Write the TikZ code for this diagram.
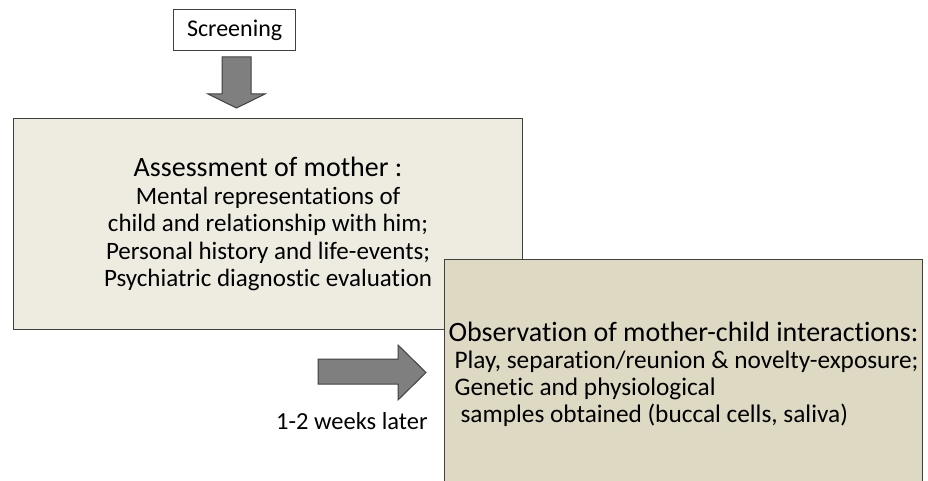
\documentclass[tikz,border=0pt]{standalone}
\usepackage{fontspec}
\setmainfont{Carlito}[Ligatures=NoCommon]
\definecolor{boxline}{HTML}{404040}
\definecolor{assessfill}{HTML}{EEECE1}
\definecolor{observfill}{HTML}{DDD9C3}
\definecolor{arrowfill}{HTML}{7F7F7F}
\begin{document}
\begin{tikzpicture}[x=1pt,y=-1pt,
    box/.style={draw=boxline,line width=1.2pt,inner sep=0pt},
    blockarrow/.style={draw=boxline,fill=arrowfill,line width=1pt,line join=miter},
    smalltext/.style={font=\fontsize{25}{27.5}\selectfont}]
  \useasboundingbox (0,0) rectangle (928,481);
  % boxes
  \node[box,font=\fontsize{24}{28}\selectfont,fill=white,anchor=north west,minimum width=122,minimum height=41] (screen) at (173,9) {Screening};
  \node[box,smalltext,fill=assessfill,anchor=north west,minimum width=509,minimum height=211,align=center] (assess) at (13,118)
    {{\fontsize{28}{28}\selectfont Assessment of mother :}\\
     Mental representations of\\
     child and relationship with him;\\
     Personal history and life-events;\\
     Psychiatric diagnostic evaluation};
  \node[box,font=\fontsize{25.3}{27}\selectfont,fill=observfill,anchor=north west,inner xsep=4,minimum width=476,minimum height=229,align=left] (observ) at (444,259)
    {{\fontsize{28}{28}\selectfont Observation of mother-child interactions:}\\
     \hspace*{6pt}Play, separation/reunion \& novelty-exposure;\\
     \hspace*{6pt}Genetic and physiological\\
     \hspace*{12pt}samples obtained (buccal cells, saliva)};
  % block arrows
  \draw[blockarrow] (222,57) -- (251,57) -- (251,94) -- (265,94) -- (236.5,108) -- (208,94) -- (222,94) -- cycle;
  \draw[blockarrow] (318,359) -- (398,359) -- (398,345) -- (426,372.5) -- (398,400) -- (398,384) -- (318,384) -- cycle;
  \node[font=\fontsize{24.5}{28}\selectfont,anchor=base west,inner sep=0pt] (later) at (276,429) {1-2 weeks later};
\end{tikzpicture}
\end{document}
